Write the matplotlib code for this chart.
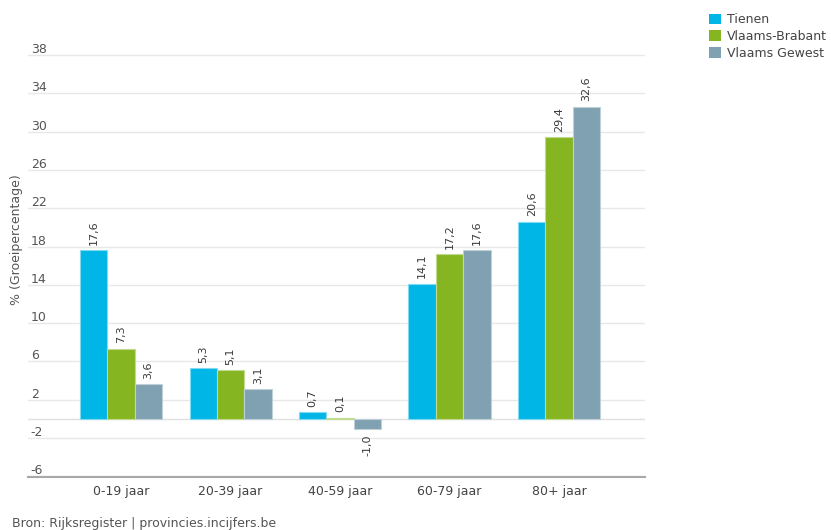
import matplotlib.pyplot as plt
import numpy as np
from matplotlib.patches import Patch
import matplotlib.transforms as mtransforms

plt.rcParams['font.family'] = ['DejaVu Sans']

categories = ['0-19 jaar', '20-39 jaar', '40-59 jaar', '60-79 jaar', '80+ jaar']
series_names = ['Tienen', 'Vlaams-Brabant', 'Vlaams Gewest']
tienen = [17.6, 5.3, 0.7, 14.1, 20.6]
brabant = [7.3, 5.1, 0.1, 17.2, 29.4]
gewest = [3.6, 3.1, -1.0, 17.6, 32.6]
yticks = [-6, -2, 2, 6, 10, 14, 18, 22, 26, 30, 34, 38]

colors = ['#00b6e6', '#86b522', '#80a1b1']
edge = ['#7fdaf2', '#c2da90', '#bfd0d8']

W, H = 831, 530
fig = plt.figure(figsize=(W / 100, H / 100), dpi=100)
ax = fig.add_axes([28 / W, 1 - 477 / H, (645 - 28) / W, (477 - 53) / H])

x = np.arange(len(categories))
bw = 0.25
for i, vals in enumerate([tienen, brabant, gewest]):
    pos = x + (i - 1) * bw
    ax.bar(pos, vals, width=bw, color=colors[i], edgecolor=edge[i],
           linewidth=0.8, zorder=3, label=series_names[i])
    for xp, v in zip(pos, vals):
        txt = f'{v:.1f}'.replace('.', ',')
        if v >= 0:
            ax.annotate(txt, (xp, v), xytext=(0, 4), textcoords='offset points',
                        rotation=90, ha='center', va='bottom', fontsize=8,
                        color='#3a3a3a', zorder=4)
        else:
            ax.annotate(txt, (xp, v), xytext=(0, -4), textcoords='offset points',
                        rotation=90, ha='center', va='top', fontsize=8,
                        color='#3a3a3a', zorder=4)

ax.set_xlim(-0.85, 4.785)
ax.set_ylim(-6.06, 38.2)
ax.set_yticks(yticks)
ax.set_yticklabels([str(t) for t in yticks])
ax.yaxis.grid(True, color='#e8e8e8', linewidth=1, zorder=0)
ax.axhline(0, color='#e0e0e0', linewidth=1, zorder=1)
ax.tick_params(axis='y', length=0, pad=-2, labelsize=9, labelcolor='#555555')
offset = mtransforms.ScaledTranslation(0, -1 / 100, fig.dpi_scale_trans)
for lab in ax.get_yticklabels():
    lab.set_horizontalalignment('left')
    lab.set_verticalalignment('bottom')
    lab.set_transform(lab.get_transform() + offset)

ax.set_xticks(x)
ax.set_xticklabels(categories)
ax.tick_params(axis='x', length=0, pad=6, labelsize=9, labelcolor='#444444')

for s in ['top', 'right', 'left']:
    ax.spines[s].set_visible(False)
ax.spines['bottom'].set_color('#a8a8a8')
ax.spines['bottom'].set_linewidth(1.5)

fig.text(17 / W, 1 - 240 / H, '% (Groeipercentage)', rotation=90,
         ha='center', va='center', fontsize=9, color='#555555')
fig.text(12 / W, 1 - 523 / H, 'Bron: Rijksregister | provincies.incijfers.be',
         ha='left', va='center', fontsize=9, color='#555555')

handles = [Patch(facecolor=c) for c in colors]
fig.legend(handles, series_names, loc='upper left',
           bbox_to_anchor=(698 / W, 1 - 2 / H), frameon=False,
           handlelength=0.95, handleheight=0.95, handletextpad=0.45,
           labelspacing=0.3, fontsize=9, labelcolor='#444444')

fig.savefig('out.png', dpi=100)
